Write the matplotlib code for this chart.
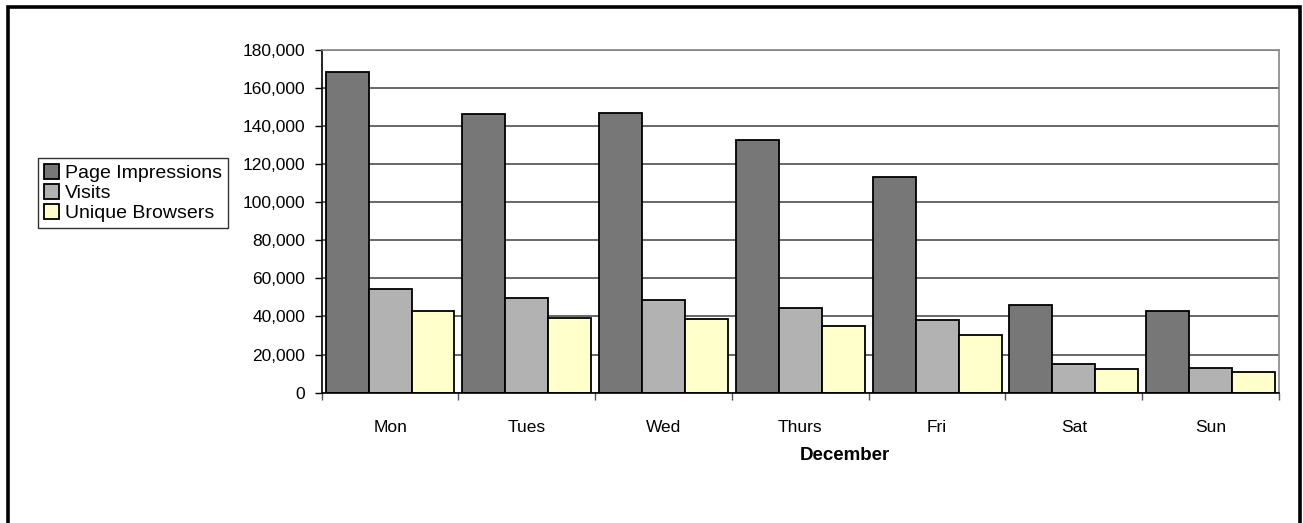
# -*- coding: utf-8 -*-
"""
weekly traffic for December: page impressions, visits and unique browsers
"""

import numpy as np
import matplotlib.pyplot as plt
from matplotlib.patches import Rectangle

# data
days = ['Mon', 'Tues', 'Wed', 'Thurs', 'Fri', 'Sat', 'Sun']
page_impressions = [168400, 146000, 146700, 132400, 113300, 46200, 43000]
visits = [54400, 49500, 48600, 44300, 38000, 14900, 12800]
unique_browsers = [43000, 39300, 38800, 35000, 30400, 12300, 11000]
y_ticks = [0, 20000, 40000, 60000, 80000, 100000, 120000, 140000, 160000, 180000]

series = [('Page Impressions', page_impressions, '#777777'),
          ('Visits', visits, '#b2b2b2'),
          ('Unique Browsers', unique_browsers, '#ffffcc')]

plt.rcParams['font.family'] = ['Liberation Sans', 'DejaVu Sans']

fig = plt.figure(figsize=(13.03, 5.23), dpi=100)
ax1 = fig.add_axes([321.7 / 1303, 1 - 392.7 / 523, (1279 - 321.7) / 1303, (392.7 - 49.5) / 523])

x = np.arange(len(days))
width = 0.314
for k, (label, values, color) in enumerate(series):
    ax1.bar(x + (k - 1) * width, values, width=width, color=color, edgecolor='black',
            linewidth=1.3, label=label, zorder=3)

# axis limits and grid
ax1.set_xlim(-0.5, len(days) - 0.5)
ax1.set_ylim(0, 180000)
ax1.set_yticks(y_ticks)
ax1.set_yticklabels(['{:,}'.format(v) for v in y_ticks])
ax1.yaxis.grid(True, color='#404040', linewidth=1.1, zorder=0)

# ticks between the categories, labels in the middle
ax1.set_xticks(np.arange(len(days) + 1) - 0.5)
ax1.set_xticklabels([])
ax1.set_xticks(x, minor=True)
ax1.set_xticklabels(days, minor=True)
ax1.tick_params(axis='x', which='minor', length=0, pad=20, labelsize=12.5)
ax1.tick_params(axis='x', which='major', direction='out', length=5, width=1, color='#555555')
ax1.tick_params(axis='y', direction='out', length=5, width=1, pad=7, labelsize=12.5)

for side in ['top', 'right']:
    ax1.spines[side].set_color('#888888')
    ax1.spines[side].set_linewidth(1.2)
for side in ['left', 'bottom']:
    ax1.spines[side].set_color('black')
    ax1.spines[side].set_linewidth(1.2)
ax1.spines['bottom'].set_zorder(4)

# axis title (Excel puts it a bit right of the plot centre)
fig.text(845 / 1303, 1 - 456 / 523, 'December', ha='center', va='center',
         fontsize=13.5, fontweight='bold')

# legend box on the left
leg = fig.legend(loc='upper left', bbox_to_anchor=(38 / 1303, 1 - 158 / 523),
                 fontsize=14, frameon=True, fancybox=False, shadow=False,
                 handlelength=0.8, handleheight=0.8, handletextpad=0.3,
                 labelspacing=0.1, borderpad=0.3, borderaxespad=0)
leg.get_frame().set_edgecolor('black')
leg.get_frame().set_linewidth(1)

# thick chart-area border, open at the bottom
fig.add_artist(Rectangle((7.5 / 1303, -0.05), (1299.5 - 7.5) / 1303, 1.05 - 6.5 / 523,
                         transform=fig.transFigure, fill=False, edgecolor='black',
                         linewidth=2.6))

plt.savefig('out.png', dpi=100)
